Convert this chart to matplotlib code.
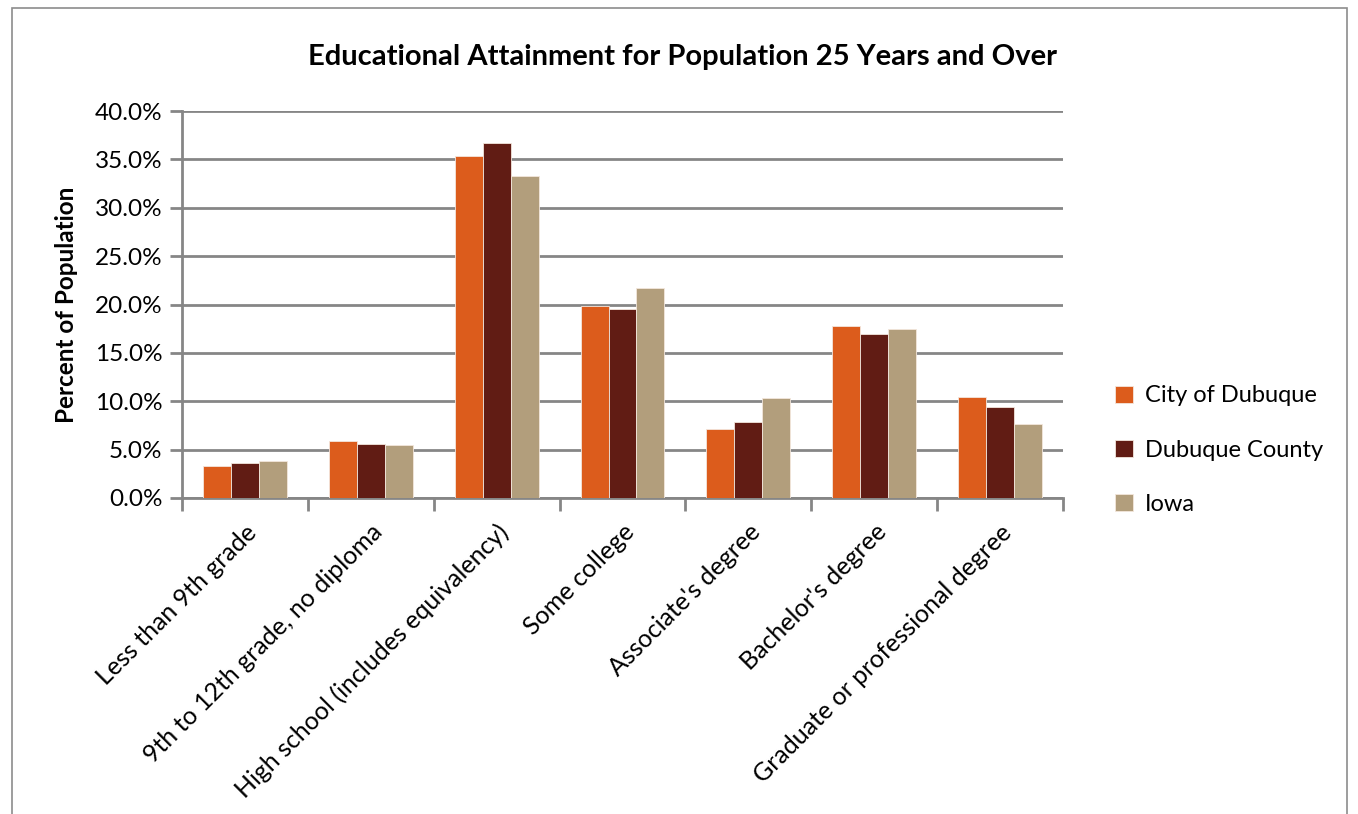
import numpy as np
import matplotlib.pyplot as plt
from matplotlib.patches import Rectangle

plt.rcParams['font.family'] = ['Lato', 'DejaVu Sans']

categories = ["Less than 9th grade", "9th to 12th grade, no diploma",
              "High school (includes equivalency)", "Some college",
              "Associate's degree", "Bachelor's degree",
              "Graduate or professional degree"]
city = [3.35, 5.9, 35.4, 19.8, 7.1, 17.8, 10.4]
county = [3.6, 5.6, 36.7, 19.5, 7.9, 17.0, 9.4]
iowa = [3.8, 5.5, 33.3, 21.7, 10.3, 17.5, 7.7]
series = ["City of Dubuque", "Dubuque County", "Iowa"]
colors = ["#DC5C1C", "#611C14", "#B29E7C"]
grid_c = "#868686"

fig = plt.figure(figsize=(13.58, 8.14), dpi=100)
ax = fig.add_axes([182/1358, 1-498/814, (1063-182)/1358, (498-111)/814])

# chart border
fig.patches.append(Rectangle((12/1358, -0.01), (1347-12)/1358, 1-8/814+0.01,
                             transform=fig.transFigure, fill=False,
                             edgecolor="#8c8c8c", lw=1.2))

x = np.arange(len(categories))
w = 0.222
for i, (vals, name) in enumerate(zip([city, county, iowa], series)):
    ax.bar(x + (i-1)*w, vals, width=w, color=colors[i], label=name,
           edgecolor="#f3e6dc", linewidth=0.6, zorder=3)

ax.set_xlim(-0.5, len(categories)-0.5)
ax.set_ylim(0, 40)
ax.set_yticks(np.arange(0, 41, 5))
ax.set_yticklabels([f"{v:.1f}%" for v in np.arange(0, 41, 5)], fontsize=17.5)
ax.yaxis.grid(True, color=grid_c, lw=2, zorder=0)
ax.set_axisbelow(True)

ax.set_xticks(x)
ax.set_xticklabels(categories, rotation=45, ha="right", rotation_mode="anchor",
                   fontsize=18)
ax.tick_params(axis="x", which="major", length=0, pad=16)
ax.set_xticks(np.arange(-0.5, len(categories)), minor=True)
ax.tick_params(axis="x", which="minor", length=9, width=2, color=grid_c)
ax.tick_params(axis="y", length=9, width=2, color=grid_c, pad=5)

for s in ["top", "right"]:
    ax.spines[s].set_visible(False)
for s in ["left", "bottom"]:
    ax.spines[s].set_color(grid_c)
    ax.spines[s].set_linewidth(2)

ax.set_ylabel("Percent of Population", fontsize=17.5, fontweight="bold", labelpad=12)
fig.text(683/1358, 1-57/814, "Educational Attainment for Population 25 Years and Over",
         ha="center", va="center", fontsize=21, fontweight="bold")

ax.legend(loc="center left", bbox_to_anchor=(1.035, 0.124), frameon=False,
          fontsize=17, handlelength=0.75, handleheight=0.75,
          labelspacing=1.4, handletextpad=0.5)

fig.savefig("out.png", dpi=100)
